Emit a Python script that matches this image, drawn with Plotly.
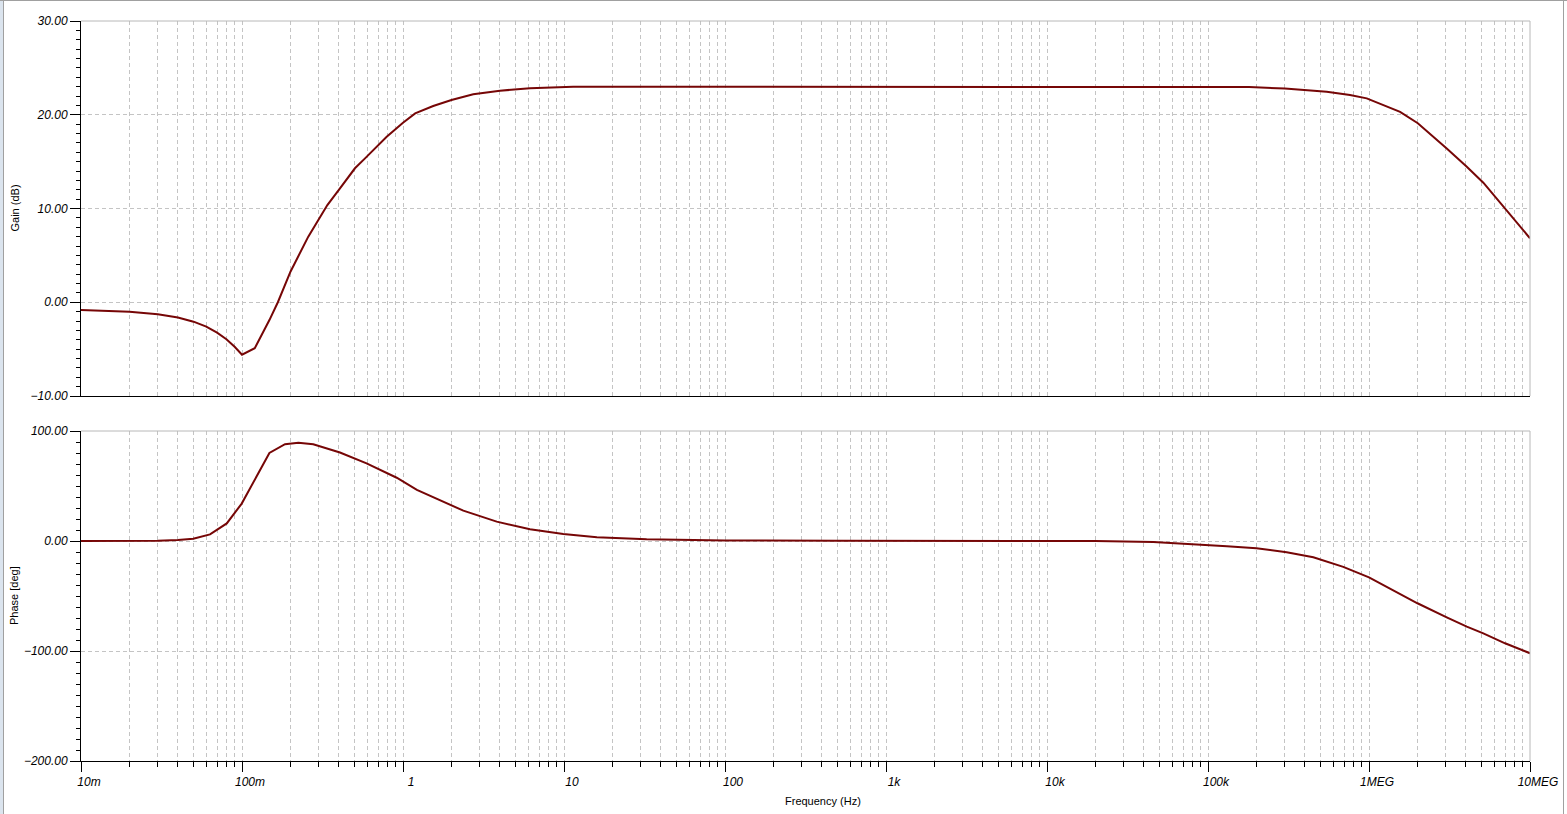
import plotly.graph_objects as go

# ---------------- data ----------------
gain_freq = [0.01, 0.02, 0.03, 0.04, 0.05, 0.06, 0.07, 0.08, 0.09, 0.1, 0.12, 0.142,
             0.148, 0.167, 0.2, 0.258, 0.339, 0.406, 0.503, 0.581, 0.792, 1.0, 1.19,
             1.54, 2.0, 2.73, 4.0, 6.15, 11.4, 20, 100, 1000, 1e4, 1e5, 1.8e5, 3.0e5,
             5.46e5, 7.62e5, 9.68e5, 1.56e6, 2.01e6, 3.04e6, 4.05e6, 5.13e6, 6.06e6,
             7.0e6, 8.07e6, 1e7]
gain_db = [-0.83, -1.0, -1.28, -1.62, -2.07, -2.6, -3.25, -3.95, -4.75, -5.6, -4.9, -2.6,
           -1.9, 0.0, 3.26, 7.0, 10.37, 12.15, 14.29, 15.35, 17.66, 19.15, 20.15,
           20.93, 21.57, 22.18, 22.57, 22.82, 22.98, 23.0, 23.0, 23.0, 23.0, 23.0, 22.95, 22.8,
           22.46, 22.1, 21.75, 20.3, 19.1, 16.4, 14.46, 12.75, 11.26,
           10.0, 8.77, 6.82]

phase_freq = [0.01, 0.02, 0.03, 0.04, 0.0498, 0.0633, 0.0804, 0.0996, 0.112, 0.148, 0.185,
              0.224, 0.277, 0.406, 0.594, 0.914, 1.22, 1.96, 2.37, 3.82, 6.15, 9.9, 16.0,
              32.6, 52, 100, 500, 2e3, 2e4, 4.57e4, 8.5e4, 1.31e5, 2.0e5, 3.08e5, 4.51e5,
              6.92e5, 1.0e6, 1.35e6, 2.0e6, 3.04e6, 4.05e6, 5.13e6, 7.0e6, 1e7]
phase_deg = [0.0, 0.0, 0.2, 0.8, 2.0, 6.0, 16.0, 34.0, 48.0, 80.0, 88.0,
             89.3, 88.0, 80.4, 70.6, 57.5, 46.4, 32.7, 27.6, 17.6, 10.6, 6.4, 3.4,
             1.5, 0.9, 0.5, 0.2, 0.0, 0.0, -1.0, -3.0, -4.8, -6.6, -10.3, -14.8,
             -23.5, -33.0, -43.0, -56.6, -69.4, -77.9, -84.0, -93.0, -102.0]

decade_vals = [0.01, 0.1, 1, 10, 100, 1e3, 1e4, 1e5, 1e6, 1e7]
decade_text = ["10m", "100m", "1", "10", "100", "1k", "10k", "100k", "1MEG", "10MEG"]
minor_vals = [m * d for d in decade_vals[:-1] for m in range(2, 10)]

gain_ticks = [-10, 0, 10, 20, 30]
phase_ticks = [-200, -100, 0, 100]

# ---------------- styling ----------------
W, H = 1567, 814
LINE = "#760606"
GRID = "#c4c4c4"
DASH = "4px,3px"
BORDER = "#b8b8b8"
FONT = "Liberation Sans, Arial, sans-serif"


def px(x):
    return x / W


def py(y):
    return 1 - y / H


xdom = [px(81), px(1530)]
top_dom = [py(396), py(21)]
bot_dom = [py(761), py(431)]

tickfont = dict(family=FONT, size=12, color="black", style="italic")

fig = go.Figure()
fig.add_trace(go.Scatter(x=gain_freq, y=gain_db, xaxis="x", yaxis="y", mode="lines",
                         line=dict(color=LINE, width=2), hoverinfo="skip", showlegend=False))
fig.add_trace(go.Scatter(x=phase_freq, y=phase_deg, xaxis="x2", yaxis="y2", mode="lines",
                         line=dict(color=LINE, width=2), hoverinfo="skip", showlegend=False))

common_x = dict(type="log", range=[-2, 7], domain=xdom, tickmode="array",
                tickvals=decade_vals, showgrid=True, gridcolor=GRID, griddash=DASH,
                gridwidth=1, showline=True, linecolor="black", linewidth=1,
                zeroline=False, fixedrange=True, automargin=False)

fig.update_layout(
    width=W, height=H,
    margin=dict(l=0, r=0, t=0, b=0, pad=0),
    paper_bgcolor="white", plot_bgcolor="white",
    showlegend=False,
    xaxis=dict(common_x, anchor="y", showticklabels=False, ticks="",
               minor=dict(tickmode="array", tickvals=minor_vals, showgrid=True,
                          gridcolor=GRID, griddash=DASH, ticks="")),
    xaxis2=dict(common_x, anchor="y2", ticktext=decade_text, ticks="outside",
                ticklen=10, tickcolor="black", tickwidth=1, tickfont=tickfont,
                ticklabelshift=8,
                minor=dict(tickmode="array", tickvals=minor_vals, showgrid=True,
                           gridcolor=GRID, griddash=DASH, ticks="outside",
                           ticklen=5, tickcolor="black")),
    yaxis=dict(domain=top_dom, anchor="x", range=[-10, 30], tickmode="array",
               tickvals=gain_ticks, tickformat=".2f", ticks="outside", ticklen=10,
               tickcolor="black", tickfont=tickfont, showline=True, linecolor="black",
               showgrid=True, gridcolor=GRID, griddash=DASH, zeroline=False,
               fixedrange=True, automargin=False,
               minor=dict(dtick=1, ticks="outside", ticklen=4, tickcolor="black",
                          showgrid=False)),
    yaxis2=dict(domain=bot_dom, anchor="x2", range=[-200, 100], tickmode="array",
                tickvals=phase_ticks, tickformat=".2f", ticks="outside", ticklen=10,
                tickcolor="black", tickfont=tickfont, showline=True, linecolor="black",
                showgrid=True, gridcolor=GRID, griddash=DASH, zeroline=False,
                fixedrange=True, automargin=False,
                minor=dict(dtick=10, ticks="outside", ticklen=4, tickcolor="black",
                           showgrid=False)),
)

shapes = []
# light grey top/right borders of both plot areas
for (y0, y1) in [(21, 396), (431, 761)]:
    shapes.append(dict(type="line", xref="paper", yref="paper", x0=px(81), x1=px(1530),
                       y0=py(y0), y1=py(y0), line=dict(color=BORDER, width=1), layer="above"))
    shapes.append(dict(type="line", xref="paper", yref="paper", x0=px(1530), x1=px(1530),
                       y0=py(y0), y1=py(y1), line=dict(color=BORDER, width=1), layer="above"))
# window frame
shapes.append(dict(type="rect", xref="paper", yref="paper", x0=0, x1=px(3), y0=0, y1=1,
                   fillcolor="#dbe4ee", line=dict(width=0), layer="below"))
shapes.append(dict(type="line", xref="paper", yref="paper", x0=px(3.5), x1=px(3.5), y0=0, y1=1,
                   line=dict(color="#a0a0a0", width=1)))
shapes.append(dict(type="line", xref="paper", yref="paper", x0=0, x1=1, y0=py(0.5), y1=py(0.5),
                   line=dict(color="#a0a0a0", width=1)))
shapes.append(dict(type="line", xref="paper", yref="paper", x0=px(1563.5), x1=px(1563.5),
                   y0=0, y1=1, line=dict(color="#a0a0a0", width=1)))
fig.update_layout(shapes=shapes)

title_font = dict(family=FONT, size=11, color="black")
fig.add_annotation(text="Gain (dB)", xref="paper", yref="paper", x=px(14), y=py(208.5),
                   textangle=-90, showarrow=False, font=title_font,
                   xanchor="center", yanchor="middle")
fig.add_annotation(text="Phase [deg]", xref="paper", yref="paper", x=px(14), y=py(596),
                   textangle=-90, showarrow=False, font=title_font,
                   xanchor="center", yanchor="middle")
fig.add_annotation(text="Frequency (Hz)", xref="paper", yref="paper", x=px(823), y=py(801),
                   showarrow=False, font=title_font, xanchor="center", yanchor="middle")

fig.write_html("out.html", config={"displayModeBar": False},
               post_script="document.body.style.margin='0';document.body.style.overflow='hidden';")
